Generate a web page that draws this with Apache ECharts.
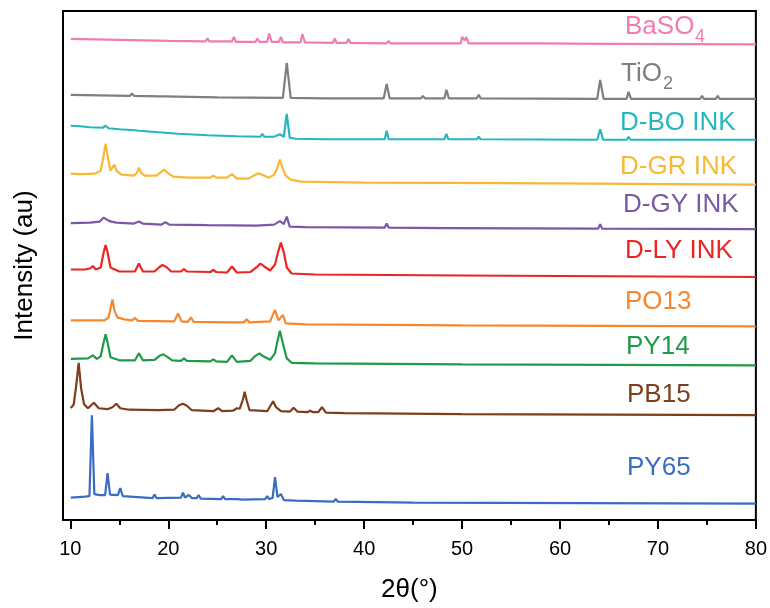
<!DOCTYPE html>
<html>
<head>
<meta charset="utf-8">
<script src="https://cdn.jsdelivr.net/npm/echarts@6/dist/echarts.min.js"></script>
<style>
  html, body { margin: 0; padding: 0; background: #fff; }
  #chart { width: 770px; height: 608px; }
</style>
</head>
<body>
<div id="chart"></div>
<script>
// XRD patterns, [2theta, intensity (offset, au)]
const baso4 = [[10.05,482],[15,481],[20,480],[23.8,479.5],[24.0,482.5],[24.2,479.5],[26.5,479.5],[26.7,484],[26.9,479],[28.9,479],[29.1,482.5],[29.3,479],[30.1,479],[30.3,487.5],[30.55,479],[31.3,479],[31.5,484],[31.7,478.5],[33.5,478.5],[33.7,487],[33.95,478.5],[36.8,478],[37.0,482.5],[37.2,478],[38.2,478],[38.4,482],[38.6,478],[42.3,477.5],[42.5,480],[42.7,477.5],[45.2,477.5],[45.4,479],[45.6,477.5],[47.7,477.5],[47.9,479.5],[48.1,477.5],[49.85,477.5],[50.0,484],[50.25,480.5],[50.45,484],[50.65,477.5],[51.5,477.5],[51.7,479],[51.9,477.5],[57.6,477.5],[57.8,479],[58.0,477.5],[64.6,477],[64.8,478.5],[65,477],[80,476.5]];
const tio2 = [[10.05,426],[13,425.5],[16.1,425],[16.3,427.5],[16.5,425],[19.1,424.5],[19.3,426.5],[19.5,424.5],[25,423.5],[31.7,423],[32.1,458],[32.5,423],[36,422.5],[42.0,422.5],[42.3,437],[42.6,422.5],[45.8,422.5],[46.0,425],[46.2,422.5],[48.2,422.5],[48.4,431],[48.65,422.5],[51.5,422.5],[51.7,426],[51.9,422.5],[63.8,422],[64.1,441],[64.45,422],[66.8,422],[67.0,429],[67.25,422],[74.3,422],[74.5,425],[74.7,422],[75.9,422],[76.1,425],[76.3,422],[80,422]];
const dbo = [[10.05,395],[11,394.5],[12,393.5],[13.3,393],[13.6,395],[13.9,392.5],[15,391.5],[16.6,390.5],[16.8,392],[17.0,390],[19,388.5],[21,387],[24,385.5],[27,384.5],[29.4,384],[29.6,387],[29.8,384],[30.8,384],[31.4,386.5],[31.8,384],[32.1,407],[32.4,383],[33,382],[36,381.5],[42.1,381.5],[42.3,390],[42.5,381.5],[48.2,381.5],[48.4,387],[48.6,381.5],[51.5,381.5],[51.7,384],[51.9,381.5],[63.8,381],[64.1,391.5],[64.4,381],[66.8,381],[67,384],[67.2,381],[74.3,381],[74.5,383],[74.7,381],[80,381]];
const dgr = [[10.05,347],[11,346.5],[12.5,347],[13.1,350],[13.4,365],[13.6,377],[13.8,365],[14.1,350],[14.3,351],[14.5,356],[14.7,350],[15.2,346],[16.5,345],[16.8,348],[17.0,353],[17.2,348],[17.6,345],[18.8,345],[19.3,349],[19.6,351],[19.9,348],[20.5,344],[22,343],[24.3,343],[24.6,345],[24.9,343],[26.0,343],[26.5,346.5],[27.0,342],[28.2,342],[28.7,345],[29.2,347.5],[29.7,345.5],[30.3,343],[30.8,346],[31.1,352],[31.4,361],[31.7,352],[32.0,345],[32.5,341],[33.5,339],[40,338],[55,337.5],[80,336]];
const dgy = [[10.05,297.5],[12,298],[13.0,299],[13.4,303],[13.6,304.5],[13.9,300],[14.2,299],[14.4,300],[14.7,298],[16.5,297],[17.0,299],[17.4,297],[19.3,296],[19.7,298.5],[20.1,296],[24,295.5],[29,295],[30.8,296],[31.4,299.5],[31.8,296.5],[32.1,304],[32.4,294],[34,293.5],[42.1,293],[42.3,297],[42.5,293],[48.2,292.5],[48.4,294.5],[48.6,292.5],[63.9,292],[64.1,296.5],[64.3,292],[80,291.5]];
const dly = [[10.05,251],[11.5,251],[12.0,252],[12.3,254.5],[12.6,251],[13.1,253],[13.4,268],[13.6,275.5],[13.8,268],[14.1,253],[15,249],[16.6,249],[17.0,257],[17.4,249],[18.6,249],[19.1,253.5],[19.4,255.5],[19.8,253.5],[20.3,249],[21.3,249],[21.6,251.5],[21.9,249],[24.3,248.5],[24.6,250.5],[24.9,248.5],[26.0,248],[26.5,254],[27.0,248],[28.4,248.5],[29.0,253],[29.4,257],[29.8,254],[30.4,250],[30.9,256],[31.2,268],[31.5,278],[31.8,268],[32.1,253],[32.6,247],[35,246],[50,245],[80,243.5]];
const po13 = [[10.05,200],[13.5,200],[13.9,203],[14.1,212],[14.3,221],[14.5,210],[14.8,203],[15.5,201],[16.3,200],[16.6,202.5],[16.9,199.5],[20.6,199],[21.0,207],[21.35,199],[22.0,198.5],[22.3,203],[22.6,198.5],[26.3,198],[26.5,200],[26.7,198],[27.7,198],[28.0,201],[28.3,198],[30.4,199],[30.9,210.5],[31.25,200],[31.7,205.5],[32.0,197],[34,196],[50,195],[80,194]];
const py14 = [[10.05,161.5],[11.8,162],[12.3,165],[12.7,161.5],[13.1,164],[13.4,178],[13.6,186],[13.8,178],[14.1,163],[15,160],[16.6,160],[17.0,167],[17.4,160],[18.6,160.5],[19.1,164.5],[19.5,166],[19.9,163.5],[20.4,160],[21.3,159.5],[21.6,162],[21.9,159.5],[24.3,159],[24.6,161],[24.9,159],[26.0,158.5],[26.5,165],[27.0,158.5],[28.4,159.5],[28.9,164.5],[29.3,167],[29.7,164],[30.4,160.5],[30.9,167],[31.1,177],[31.4,189.5],[31.7,177],[32.1,162],[32.6,157.5],[35,157],[50,156],[80,155]];
const pb15 = [[10.05,112],[10.35,116],[10.6,135],[10.85,157.5],[11.1,132],[11.4,116],[11.8,112],[12.4,117.5],[12.9,112],[13.8,111],[14.3,113],[14.7,116.5],[15.1,112],[16,110.5],[19,110],[20.6,110.5],[21.1,115],[21.5,116.5],[21.9,114.5],[22.4,110],[24.6,109],[25.1,112],[25.5,109],[26.6,109.5],[27.0,112],[27.3,111.5],[27.6,120],[27.8,128.5],[28.0,120],[28.3,110],[30.1,109],[30.4,114],[30.7,119],[31.0,113],[31.5,109],[32.4,108.5],[32.8,112.5],[33.2,108.5],[34.2,108],[34.5,109.5],[34.8,108],[35.3,108],[35.7,113],[36.1,107.5],[38,107],[50,106],[80,105]];
const py65 = [[10.05,22.5],[11.5,23.5],[11.95,24],[12.2,105],[12.45,26],[13,25],[13.55,25],[13.8,47],[14.05,25.5],[14.85,25],[15.1,32],[15.35,24],[18.4,22],[18.6,25.5],[18.8,22],[21.3,22.5],[21.5,27.5],[21.7,22.5],[22.1,25],[22.4,22],[22.9,22],[23.1,25],[23.3,21.5],[25.4,21],[25.6,24],[25.8,21],[27.1,21],[27.3,23],[27.5,20.5],[29.9,21],[30.1,24],[30.3,21],[30.65,22],[30.9,43],[31.15,23],[31.5,26],[31.8,20],[33,19.5],[36.9,18.5],[37.1,21],[37.3,18.5],[45,17.5],[80,16.5]];

const majorTicks = [10, 20, 30, 40, 50, 60, 70, 80];
const minorTicks = [15, 25, 35, 45, 55, 65, 75];

const FONT = 'Liberation Sans, Arial, sans-serif';

const patterns = [
    { name: 'BaSO4', data: baso4, color: '#F07DB2' },
    { name: 'TiO2', data: tio2, color: '#7F7F7F' },
    { name: 'D-BO INK', data: dbo, color: '#22B8BE' },
    { name: 'D-GR INK', data: dgr, color: '#F7B935' },
    { name: 'D-GY INK', data: dgy, color: '#7A58A8' },
    { name: 'D-LY INK', data: dly, color: '#EE2424' },
    { name: 'PO13', data: po13, color: '#F7872E' },
    { name: 'PY14', data: py14, color: '#1F9A48' },
    { name: 'PB15', data: pb15, color: '#7E3E1C' },
    { name: 'PY65', data: py65, color: '#3A6CC2' }
];

// curve labels: [text, x, y, color], subscripts drawn separately
const labels = [
    ['BaSO', 625, 27, '#F07DB2'],
    ['TiO', 621, 74, '#7F7F7F'],
    ['D-BO INK', 620, 123, '#22B8BE'],
    ['D-GR INK', 620, 167, '#F7B935'],
    ['D-GY INK', 623, 205, '#7A58A8'],
    ['D-LY INK', 625, 251, '#EE2424'],
    ['PO13', 625, 302, '#F7872E'],
    ['PY14', 626, 347, '#1F9A48'],
    ['PB15', 627, 395, '#7E3E1C'],
    ['PY65', 627, 468, '#3A6CC2']
];
const subs = [
    ['4', 695, 37, '#F07DB2'],
    ['2', 663, 84, '#7F7F7F']
];

const chart = echarts.init(document.getElementById('chart'));

const graphics = labels.map(l => ({
    type: 'text', x: l[1], y: l[2], silent: true,
    style: { text: l[0], fill: l[3], font: '26px ' + FONT, textVerticalAlign: 'middle' }
})).concat(subs.map(s => ({
    type: 'text', x: s[1], y: s[2], silent: true,
    style: { text: s[0], fill: s[3], font: '18px ' + FONT, textVerticalAlign: 'middle' }
})));

const option = {
    animation: false,
    backgroundColor: '#fff',
    grid: { left: 63, right: 13, top: 11, bottom: 87, show: true, borderColor: '#000', borderWidth: 2, backgroundColor: 'transparent' },
    xAxis: [
        {
            type: 'value', min: 9.25, max: 80, position: 'bottom',
            name: '2θ(°)', nameLocation: 'middle', nameGap: 57,
            nameTextStyle: { fontFamily: FONT, fontSize: 26, color: '#000' },
            axisLine: { show: true, lineStyle: { color: '#000', width: 2 } },
            axisTick: { show: true, length: 9, lineStyle: { color: '#000', width: 2 }, customValues: majorTicks },
            axisLabel: { fontFamily: FONT, fontSize: 20, color: '#000', margin: 19, customValues: majorTicks },
            splitLine: { show: false }
        },
        {
            type: 'value', min: 9.25, max: 80, position: 'bottom',
            axisLine: { show: true, lineStyle: { color: '#000', width: 2 } },
            axisTick: { show: true, length: 5, lineStyle: { color: '#000', width: 2 }, customValues: minorTicks },
            axisLabel: { show: false },
            splitLine: { show: false }
        }
    ],
    yAxis: {
        type: 'value', min: 0, max: 510,
        name: 'Intensity (au)', nameLocation: 'middle', nameGap: 25,
        nameTextStyle: { fontFamily: FONT, fontSize: 26, color: '#000' },
        axisLine: { show: true, lineStyle: { color: '#000', width: 2 } },
        axisTick: { show: false },
        axisLabel: { show: false },
        splitLine: { show: false }
    },
    graphic: graphics,
    series: patterns.map(p => ({
        name: p.name, type: 'line', data: p.data, xAxisIndex: 0,
        showSymbol: false, silent: true,
        lineStyle: { color: p.color, width: 2.2 },
        itemStyle: { color: p.color }
    }))
};

chart.setOption(option);
window.addEventListener('resize', () => chart.resize());
</script>
</body>
</html>
